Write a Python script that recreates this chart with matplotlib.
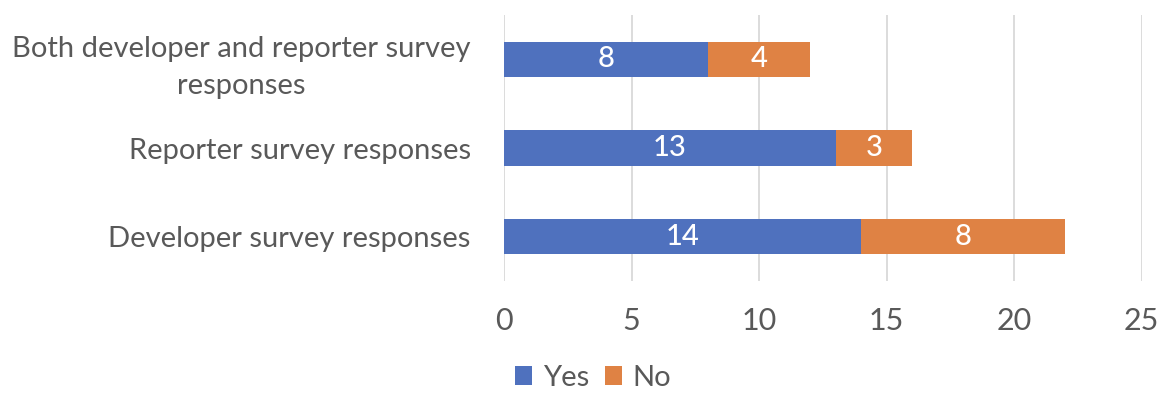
import numpy as np
import matplotlib.pyplot as plt

plt.rcParams['font.family'] = ['Lato', 'DejaVu Sans']

categories = ['Developer survey responses', 'Reporter survey responses',
              'Both developer and reporter survey\nresponses']
yes = [14, 13, 8]
no = [8, 3, 4]

blue = '#4F71BE'
orange = '#DF8244'
grey = '#595959'

fig = plt.figure(figsize=(11.74, 4.08), dpi=100)
ax = fig.add_axes([504 / 1174, 1 - 281 / 408, 637.5 / 1174, 266 / 408])

y = np.arange(len(categories))
b1 = ax.barh(y, yes, height=0.4, color=blue, label='Yes', zorder=3)
b2 = ax.barh(y, no, left=yes, height=0.4, color=orange, label='No', zorder=3)
ax.bar_label(b1, label_type='center', color='white', fontsize=21, fontweight='medium')
ax.bar_label(b2, label_type='center', color='white', fontsize=21, fontweight='medium')

ax.set_xlim(0, 25)
ax.set_ylim(-0.5, 2.5)
ax.set_xticks(range(0, 26, 5))
ax.set_yticks(y)
ax.set_yticklabels(categories, fontsize=21, color=grey, ha='right', multialignment='center',
                   linespacing=1.55)
ax.tick_params(axis='y', length=0, pad=24)
ax.tick_params(axis='x', length=0, pad=19, labelsize=22, labelcolor=grey)
ax.xaxis.grid(True, color='#D9D9D9', linewidth=1.3, zorder=0)
for s in ax.spines.values():
    s.set_visible(False)

fig.legend(handles=[b1, b2], loc='center', bbox_to_anchor=(593 / 1174, 1 - 378 / 408),
           ncol=2, frameon=False, fontsize=21, labelcolor=grey,
           handlelength=0.6, handleheight=0.6, handletextpad=0.35, columnspacing=0.55)

fig.savefig('out.png', dpi=100)
